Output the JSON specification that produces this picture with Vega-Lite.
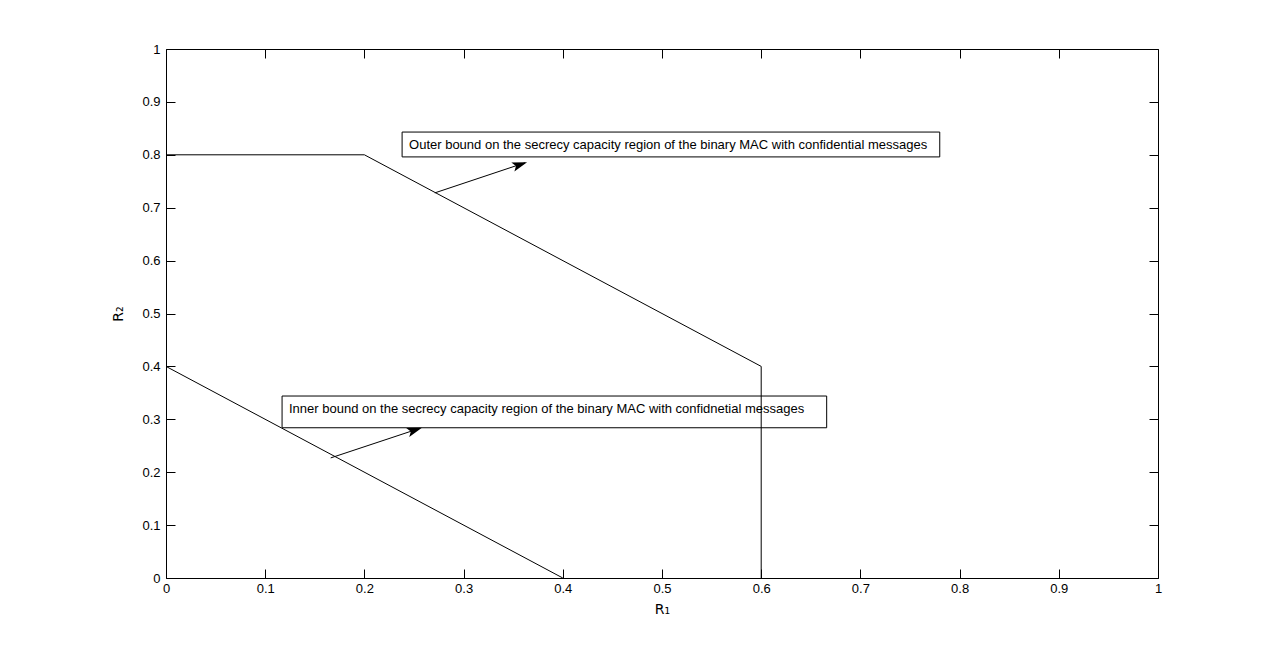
{
  "$schema": "https://vega.github.io/schema/vega-lite/v6.json",
  "autosize": "none",
  "width": 992,
  "height": 529,
  "padding": {"left": 166, "top": 49, "right": 122, "bottom": 73},
  "background": "white",
  "config": {
    "view": {"stroke": "black", "strokeWidth": 1},
    "font": "Liberation Sans",
    "axis": {
      "domain": false,
      "grid": false,
      "tickSize": -9,
      "tickColor": "black",
      "tickWidth": 1,
      "labelFont": "Liberation Sans",
      "labelFontSize": 13,
      "labelColor": "black",
      "titleFont": "DejaVu Sans",
      "titleFontSize": 14,
      "titleFontWeight": "normal",
      "titleColor": "black",
      "format": ".1~f"
    }
  },
  "datasets": {
    "lines": [
      {"series": "outer", "i": 0, "x": 0, "y": 0.8},
      {"series": "outer", "i": 1, "x": 0.2, "y": 0.8},
      {"series": "outer", "i": 2, "x": 0.6, "y": 0.4},
      {"series": "outer", "i": 3, "x": 0.6, "y": 0},
      {"series": "inner", "i": 0, "x": 0, "y": 0.4},
      {"series": "inner", "i": 1, "x": 0.4, "y": 0},
      {"series": "arrow1", "i": 0, "x": 0.271, "y": 0.728},
      {"series": "arrow1", "i": 1, "x": 0.362, "y": 0.785},
      {"series": "arrow2", "i": 0, "x": 0.166, "y": 0.227},
      {"series": "arrow2", "i": 1, "x": 0.256, "y": 0.283}
    ],
    "heads": [
      {"x": 0.364, "y": 0.786},
      {"x": 0.258, "y": 0.284}
    ],
    "boxes": [
      {"x": 0.238, "x2": 0.780, "y": 0.843, "y2": 0.796},
      {"x": 0.117, "x2": 0.666, "y": 0.344, "y2": 0.284}
    ],
    "labels": [
      {"x": 0.245, "y": 0.819, "text": "Outer bound on the secrecy capacity region of the binary MAC with confidential messages"},
      {"x": 0.124, "y": 0.319, "text": "Inner bound on the secrecy capacity region of the binary MAC with confidnetial messages"}
    ]
  },
  "resolve": {"axis": {"x": "independent", "y": "independent"}},
  "layer": [
    {
      "data": {"name": "lines"},
      "mark": {"type": "line", "color": "black", "strokeWidth": 1},
      "encoding": {
        "x": {"field": "x", "type": "quantitative", "scale": {"domain": [0, 1], "nice": false, "zero": false},
              "axis": {"orient": "bottom", "title": "R₁", "format": ".1~f", "values": [0,0.1,0.2,0.3,0.4,0.5,0.6,0.7,0.8,0.9,1], "labelPadding": 13, "titlePadding": 7, "labelFlush": false, "labelOverlap": false}},
        "y": {"field": "y", "type": "quantitative", "scale": {"domain": [0, 1], "nice": false, "zero": false},
              "axis": {"orient": "left", "title": "R₂", "format": ".1~f", "values": [0,0.1,0.2,0.3,0.4,0.5,0.6,0.7,0.8,0.9,1], "labelPadding": 15, "titlePadding": 16, "labelFlush": false, "labelOverlap": false}},
        "detail": {"field": "series"},
        "order": {"field": "i", "type": "quantitative"}
      }
    },
    {
      "data": {"name": "heads"},
      "mark": {"type": "point", "shape": "M0,0L-1,-0.32L-0.78,0L-1,0.32Z", "filled": true, "color": "black", "opacity": 1, "size": 900, "angle": 341.5, "strokeWidth": 0},
      "encoding": {
        "x": {"field": "x", "type": "quantitative", "scale": {"domain": [0, 1], "nice": false, "zero": false},
              "axis": {"orient": "top", "title": null, "labels": false, "values": [0,0.1,0.2,0.3,0.4,0.5,0.6,0.7,0.8,0.9,1]}},
        "y": {"field": "y", "type": "quantitative", "scale": {"domain": [0, 1], "nice": false, "zero": false},
              "axis": {"orient": "right", "title": null, "labels": false, "values": [0,0.1,0.2,0.3,0.4,0.5,0.6,0.7,0.8,0.9,1]}}
      }
    },
    {
      "data": {"name": "boxes"},
      "mark": {"type": "rect", "fill": "white", "fillOpacity": 0, "stroke": "black", "strokeWidth": 1},
      "encoding": {
        "x": {"field": "x", "type": "quantitative", "axis": null},
        "x2": {"field": "x2"},
        "y": {"field": "y", "type": "quantitative", "axis": null},
        "y2": {"field": "y2"}
      }
    },
    {
      "data": {"name": "labels"},
      "mark": {"type": "text", "align": "left", "baseline": "middle", "fontSize": 13, "font": "Liberation Sans", "color": "black"},
      "encoding": {
        "x": {"field": "x", "type": "quantitative", "axis": null},
        "y": {"field": "y", "type": "quantitative", "axis": null},
        "text": {"field": "text"}
      }
    }
  ]
}
